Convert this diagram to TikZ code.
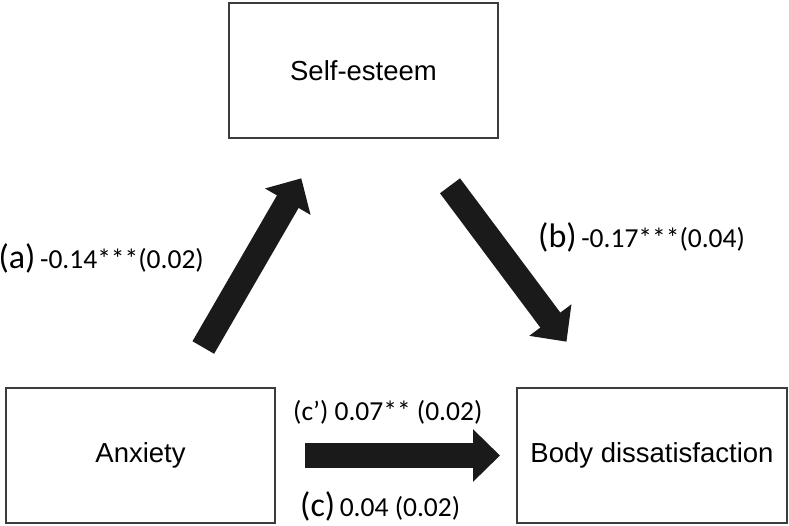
\documentclass[tikz,border=0pt]{standalone}
\usepackage{fontspec}
\setmainfont{Liberation Sans}
\newfontfamily\calib{Carlito}
\usetikzlibrary{arrows.meta}
\definecolor{boxline}{HTML}{3C3C3C}
\definecolor{arrowfill}{HTML}{1A1A1A}
\tikzset{
  varbox/.style={draw=boxline, line width=2.2pt, rectangle, minimum width=269pt, minimum height=135pt, inner sep=0pt,
    font=\fontsize{27.5}{33}\selectfont},
  fatarrow/.style={draw=arrowfill, line width=25pt, line cap=butt,
    -{Triangle[length=27pt,width=51pt]}},
  coeflabel/.style={inner sep=0pt, font=\calib\fontsize{27.5}{33}\selectfont},
}
\newcommand{\pathtag}[1]{{\fontsize{34}{40}\selectfont #1}}
\begin{document}
\begin{tikzpicture}[x=1pt,y=-1pt]
\useasboundingbox (0,0) rectangle (789,525);
\node[varbox] (se) at (363.5,70.5) {Self-esteem};
\node[varbox] (ax) at (140.5,455.5) {Anxiety};
\node[varbox, minimum width=270pt] (bd) at (652,455.5) {Body dissatisfaction};
% arrow end points
\coordinate (aS) at (203.3,347.5);
\coordinate (aE) at (301.3,178.3);
\coordinate (bS) at (450,185.8);
\coordinate (bE) at (566.5,341.7);
\coordinate (cS) at (305,455.5);
\coordinate (cE) at (500,455.5);
\draw[fatarrow] (aS) -- (aE);
\draw[fatarrow] (bS) -- (bE);
\draw[fatarrow] (cS) -- (cE);
% labels
\node[coeflabel, anchor=base east] (la) at (204,268) {\pathtag{(a)}\,-0.14***(0.02)};
\node[coeflabel, anchor=base west] (lb) at (538,247) {\pathtag{(b)}\,-0.17***(0.04)};
\node[coeflabel, anchor=base west] (lcp) at (293,420) {(c’) 0.07** (0.02)};
\node[coeflabel, anchor=base west] (lc) at (300,516) {\pathtag{(c)}\,0.04 (0.02)};
\end{tikzpicture}
\end{document}
